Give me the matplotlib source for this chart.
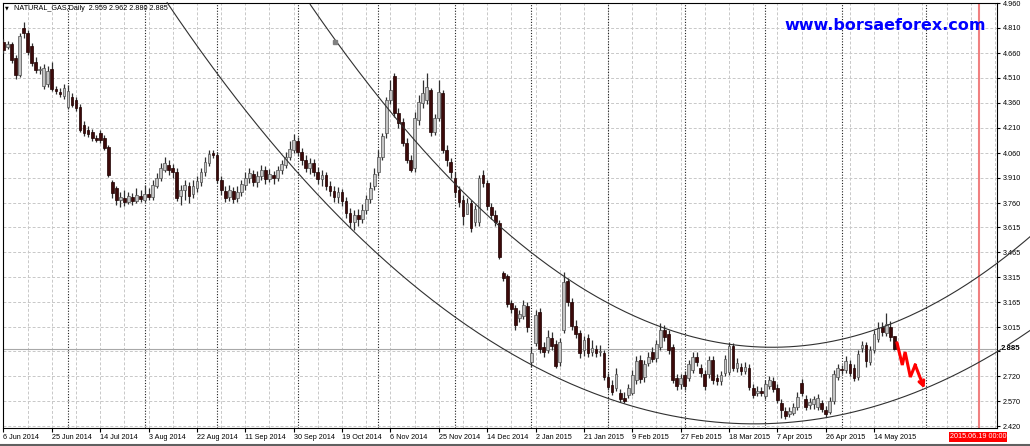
import matplotlib
matplotlib.use("Agg")
import matplotlib.pyplot as plt
from matplotlib.lines import Line2D
import numpy as np

plt.rcParams['font.family'] = ['Liberation Sans', 'DejaVu Sans']

# daily NATURAL_GAS candles (one entry per bar)
opens = [4.726, 4.696, 4.714, 4.630, 4.528, 4.810, 4.780, 4.702, 4.606, 4.558,
         4.462, 4.474, 4.564, 4.444, 4.426, 4.402, 4.336, 4.396, 4.378, 4.336,
         4.228, 4.198, 4.186, 4.150, 4.180, 4.150, 4.096, 3.886, 3.850, 3.778,
         3.790, 3.766, 3.796, 3.772, 3.802, 3.778, 3.814, 3.796, 3.862, 3.910,
         3.958, 3.988, 3.970, 3.946, 3.802, 3.838, 3.862, 3.814, 3.850, 3.886,
         3.946, 4.000, 4.060, 4.048, 3.898, 3.832, 3.796, 3.832, 3.790, 3.826,
         3.868, 3.910, 3.934, 3.886, 3.922, 3.958, 3.904, 3.928, 3.910, 3.958,
         3.988, 4.036, 4.078, 4.132, 4.066, 4.018, 3.970, 4.000, 3.946, 3.904,
         3.928, 3.862, 3.832, 3.796, 3.826, 3.772, 3.700, 3.646, 3.688, 3.664,
         3.718, 3.784, 3.862, 3.946, 4.036, 4.180, 4.378, 4.522, 4.300, 4.246,
         4.120, 4.018, 3.970, 4.258, 4.360, 4.378, 4.438, 4.186, 4.270, 4.420,
         4.078, 4.006, 3.910, 3.838, 3.778, 3.694, 3.760, 3.646, 3.646, 3.928,
         3.880, 3.736, 3.688, 3.640, 3.340, 3.322, 3.160, 3.130, 3.070, 3.082,
         3.142, 2.806, 2.920, 3.106, 2.896, 2.878, 2.950, 2.914, 2.806, 2.998,
         3.292, 3.166, 3.022, 2.980, 2.878, 2.950, 2.866, 2.884, 2.866, 2.860,
         2.716, 2.668, 2.650, 2.620, 2.590, 2.608, 2.620, 2.698, 2.818, 2.716,
         2.800, 2.866, 2.830, 2.896, 2.998, 2.974, 2.896, 2.710, 2.674, 2.728,
         2.710, 2.758, 2.836, 2.770, 2.734, 2.734, 2.818, 2.710, 2.692, 2.740,
         2.746, 2.902, 2.770, 2.776, 2.752, 2.770, 2.650, 2.620, 2.632, 2.602,
         2.662, 2.692, 2.650, 2.560, 2.512, 2.494, 2.500, 2.536, 2.680, 2.584,
         2.548, 2.554, 2.536, 2.560, 2.518, 2.506, 2.572, 2.716, 2.764, 2.758,
         2.794, 2.770, 2.716, 2.890, 2.908, 2.806, 2.878, 2.944, 3.016, 2.980,
         3.016, 2.959]
closes = [4.678, 4.714, 4.618, 4.528, 4.762, 4.780, 4.666, 4.600, 4.558, 4.564,
          4.570, 4.552, 4.444, 4.432, 4.414, 4.450, 4.432, 4.348, 4.330, 4.198,
          4.180, 4.174, 4.150, 4.138, 4.138, 4.090, 3.928, 3.820, 3.778, 3.796,
          3.766, 3.802, 3.772, 3.808, 3.784, 3.814, 3.796, 3.868, 3.910, 3.970,
          4.000, 3.958, 3.946, 3.790, 3.838, 3.868, 3.802, 3.862, 3.892, 3.946,
          4.006, 4.054, 4.048, 3.898, 3.838, 3.790, 3.838, 3.784, 3.826, 3.874,
          3.910, 3.940, 3.886, 3.922, 3.958, 3.904, 3.934, 3.910, 3.958, 3.994,
          4.036, 4.084, 4.138, 4.066, 4.018, 3.970, 4.000, 3.946, 3.904, 3.928,
          3.862, 3.832, 3.796, 3.826, 3.772, 3.700, 3.646, 3.688, 3.664, 3.718,
          3.784, 3.850, 3.934, 4.036, 4.162, 4.378, 4.438, 4.300, 4.240, 4.120,
          4.018, 3.958, 4.270, 4.366, 4.420, 4.456, 4.186, 4.270, 4.426, 4.078,
          4.018, 3.946, 3.826, 3.766, 3.682, 3.760, 3.610, 3.724, 3.910, 3.880,
          3.742, 3.688, 3.646, 3.436, 3.310, 3.154, 3.124, 3.028, 3.094, 3.148,
          3.016, 2.860, 3.088, 2.884, 2.866, 2.956, 2.902, 2.782, 2.926, 3.286,
          3.166, 3.022, 2.974, 2.860, 2.938, 2.860, 2.890, 2.860, 2.872, 2.716,
          2.656, 2.626, 2.734, 2.584, 2.572, 2.650, 2.728, 2.812, 2.704, 2.794,
          2.836, 2.824, 2.914, 2.998, 2.956, 2.878, 2.698, 2.662, 2.710, 2.662,
          2.794, 2.836, 2.806, 2.740, 2.662, 2.818, 2.698, 2.692, 2.728, 2.824,
          2.902, 2.770, 2.800, 2.752, 2.776, 2.656, 2.608, 2.632, 2.620, 2.674,
          2.698, 2.644, 2.578, 2.518, 2.482, 2.512, 2.536, 2.596, 2.620, 2.536,
          2.566, 2.584, 2.590, 2.524, 2.494, 2.572, 2.734, 2.770, 2.758, 2.812,
          2.740, 2.710, 2.854, 2.908, 2.812, 2.878, 2.974, 3.010, 2.986, 3.034,
          2.956, 2.885]
highs = [4.744, 4.732, 4.726, 4.648, 4.780, 4.846, 4.798, 4.720, 4.636, 4.582,
         4.594, 4.582, 4.606, 4.462, 4.450, 4.474, 4.468, 4.420, 4.396, 4.354,
         4.252, 4.222, 4.204, 4.168, 4.198, 4.168, 4.108, 3.898, 3.862, 3.826,
         3.838, 3.826, 3.820, 3.850, 3.838, 3.868, 3.850, 3.898, 3.940, 4.000,
         4.036, 4.018, 3.994, 3.970, 3.868, 3.898, 3.886, 3.898, 3.922, 3.970,
         4.036, 4.078, 4.078, 4.066, 3.922, 3.862, 3.868, 3.856, 3.862, 3.898,
         3.946, 3.970, 3.958, 3.952, 3.988, 3.982, 3.964, 3.952, 3.982, 4.018,
         4.066, 4.132, 4.174, 4.156, 4.090, 4.048, 4.030, 4.024, 3.976, 3.958,
         3.946, 3.892, 3.862, 3.856, 3.844, 3.796, 3.730, 3.718, 3.724, 3.754,
         3.808, 3.886, 3.970, 4.078, 4.180, 4.396, 4.498, 4.540, 4.330, 4.270,
         4.150, 4.048, 4.306, 4.408, 4.498, 4.540, 4.450, 4.294, 4.498, 4.438,
         4.108, 4.030, 3.946, 3.862, 3.808, 3.790, 3.778, 3.748, 3.928, 3.958,
         3.898, 3.760, 3.718, 3.658, 3.352, 3.334, 3.178, 3.148, 3.118, 3.178,
         3.166, 2.896, 3.118, 3.130, 2.926, 2.998, 2.986, 2.938, 2.950, 3.346,
         3.310, 3.190, 3.058, 2.998, 2.962, 2.974, 2.938, 2.908, 2.908, 2.878,
         2.740, 2.698, 2.770, 2.644, 2.626, 2.674, 2.758, 2.842, 2.848, 2.818,
         2.866, 2.896, 2.938, 3.040, 3.028, 2.998, 2.914, 2.734, 2.734, 2.752,
         2.818, 2.866, 2.866, 2.794, 2.758, 2.842, 2.842, 2.734, 2.752, 2.848,
         2.926, 2.920, 2.830, 2.800, 2.806, 2.794, 2.674, 2.662, 2.656, 2.698,
         2.722, 2.716, 2.674, 2.584, 2.536, 2.536, 2.560, 2.626, 2.704, 2.608,
         2.590, 2.602, 2.614, 2.578, 2.542, 2.596, 2.758, 2.794, 2.788, 2.842,
         2.818, 2.794, 2.878, 2.932, 2.926, 2.902, 2.998, 3.046, 3.046, 3.100,
         3.052, 2.962]
lows = [4.660, 4.684, 4.600, 4.504, 4.516, 4.750, 4.648, 4.582, 4.540, 4.534,
        4.444, 4.456, 4.432, 4.414, 4.396, 4.384, 4.324, 4.336, 4.312, 4.186,
        4.162, 4.156, 4.132, 4.126, 4.120, 4.078, 3.916, 3.790, 3.748, 3.736,
        3.742, 3.754, 3.748, 3.760, 3.766, 3.766, 3.778, 3.778, 3.850, 3.892,
        3.946, 3.928, 3.910, 3.772, 3.748, 3.778, 3.760, 3.790, 3.826, 3.862,
        3.922, 3.982, 4.030, 3.880, 3.808, 3.766, 3.772, 3.760, 3.766, 3.802,
        3.838, 3.880, 3.862, 3.856, 3.898, 3.874, 3.886, 3.874, 3.892, 3.934,
        3.970, 4.018, 4.060, 4.042, 3.988, 3.946, 3.934, 3.922, 3.874, 3.862,
        3.838, 3.802, 3.766, 3.760, 3.742, 3.670, 3.610, 3.598, 3.622, 3.640,
        3.694, 3.760, 3.838, 3.922, 4.018, 4.150, 4.354, 4.276, 4.210, 4.102,
        4.000, 3.946, 3.946, 4.228, 4.330, 4.354, 4.162, 4.168, 4.250, 4.060,
        3.982, 3.910, 3.796, 3.736, 3.628, 3.718, 3.586, 3.622, 3.622, 3.856,
        3.718, 3.664, 3.622, 3.424, 3.292, 3.136, 3.100, 2.998, 3.046, 3.064,
        2.986, 2.776, 2.902, 2.860, 2.836, 2.860, 2.878, 2.770, 2.782, 2.980,
        3.142, 2.998, 2.950, 2.830, 2.842, 2.836, 2.842, 2.836, 2.842, 2.698,
        2.638, 2.608, 2.632, 2.566, 2.560, 2.590, 2.608, 2.674, 2.680, 2.686,
        2.782, 2.806, 2.806, 2.878, 2.932, 2.854, 2.680, 2.638, 2.644, 2.638,
        2.692, 2.740, 2.782, 2.716, 2.638, 2.710, 2.674, 2.668, 2.668, 2.722,
        2.728, 2.752, 2.746, 2.728, 2.734, 2.638, 2.590, 2.602, 2.602, 2.584,
        2.644, 2.626, 2.560, 2.470, 2.464, 2.476, 2.488, 2.518, 2.602, 2.518,
        2.524, 2.524, 2.518, 2.506, 2.476, 2.494, 2.554, 2.698, 2.734, 2.740,
        2.722, 2.692, 2.698, 2.866, 2.776, 2.788, 2.860, 2.926, 2.962, 2.962,
        2.932, 2.880]

date_labels = ['6 Jun 2014', '25 Jun 2014', '14 Jul 2014', '3 Aug 2014', '22 Aug 2014',
               '11 Sep 2014', '30 Sep 2014', '19 Oct 2014', '6 Nov 2014', '25 Nov 2014',
               '14 Dec 2014', '2 Jan 2015', '21 Jan 2015', '9 Feb 2015', '27 Feb 2015',
               '18 Mar 2015', '7 Apr 2015', '26 Apr 2015', '14 May 2015']
price_ticks = [2.42, 2.57, 2.72, 2.87, 3.015, 3.165, 3.315, 3.465, 3.615, 3.76,
               3.91, 4.06, 4.21, 4.36, 4.51, 4.66, 4.81, 4.96]
price_labels = ['2.420', '2.570', '2.720', '', '3.015', '3.165', '3.315', '3.465', '3.615',
                '3.760', '3.910', '4.060', '4.210', '4.360', '4.510', '4.660', '4.810', '4.960']
month_starts = [16, 35, 53, 73, 93, 112, 131, 150, 169, 189, 208, 229]
last_price = 2.885
future_bar = 242.1  # 2015.06.19 00:00

# hand-drawn curves and arrow (bar index, price)
upper_bars = [76.1, 82.3, 88.5, 103.9, 110.8, 123.7, 131.2, 140.1, 150.5, 164.7,
              167.9, 188.5, 207.6, 218.3, 228.7, 236.6, 254.7]
upper_prices = [4.960, 4.726, 4.540, 4.078, 3.910, 3.610, 3.460, 3.310, 3.148, 2.998,
                2.980, 2.896, 2.938, 3.016, 3.130, 3.238, 3.556]
lower_bars = [40.6, 67.9, 102.9, 131.2, 154.7, 167.9, 180.3, 189.5, 207.6, 228.7, 242.3, 254.7]
lower_prices = [4.960, 4.090, 3.238, 2.788, 2.548, 2.476, 2.440, 2.440, 2.488, 2.644, 2.806, 2.998]
arrow_bars = [221.7, 223.0, 223.7, 225.0, 226.2, 228.5]
arrow_prices = [2.920, 2.788, 2.866, 2.716, 2.788, 2.646]

fig = plt.figure(figsize=(10.3, 4.46), dpi=100)
ax = fig.add_axes([3 / 1030, 18 / 446, 994 / 1030, 425 / 446])
ax.set_xlim(-0.12, 246.5)
ax.set_ylim(2.41, 4.96)

# grid
for p in price_ticks:
    ax.axhline(p, color='#c8c8c8', lw=0.7, ls=(0, (3, 2)), zorder=1)
for b in range(0, 247, 6):
    ax.axvline(b, color='#c8c8c8', lw=0.7, ls=(0, (3, 2)), zorder=1)
for b in month_starts:
    ax.axvline(b, color='#202020', lw=0.8, ls=(0, (1, 1.5)), zorder=1)
ax.axhline(last_price, color='#a8a8a8', lw=0.8, zorder=1)
ax.axvline(future_bar, color='#f08080', lw=1.5, zorder=1)

# candles
x = np.arange(len(closes))
o = np.array(opens)
c = np.array(closes)
h = np.maximum(np.array(highs), np.maximum(o, c))
l = np.minimum(np.array(lows), np.minimum(o, c))
up = c >= o
ax.vlines(x, l, h, color='#303030', lw=0.9, zorder=3)
ax.bar(x[up], (c - o)[up], bottom=o[up], width=0.68, color='#c4c4c4',
       edgecolor='#505050', lw=0.5, zorder=4)
ax.bar(x[~up], (o - c)[~up], bottom=c[~up], width=0.68, color='#3c0a0a',
       edgecolor='#1e0000', lw=0.5, zorder=4)

# curves, drawn smooth through the anchor points
for bx, py in ((upper_bars, upper_prices), (lower_bars, lower_prices)):
    coef = np.polyfit(bx, py, 4)
    xs = np.linspace(bx[0], bx[-1], 300)
    ax.plot(xs, np.polyval(coef, xs), color='#303030', lw=0.8, clip_on=False, zorder=5)
ax.plot(upper_bars[1], upper_prices[1], 's', color='#808080', ms=2.5, zorder=6)

# red zigzag arrow
ax.plot(arrow_bars[:-1], arrow_prices[:-1], color='red', lw=2.2, zorder=6,
        solid_joinstyle='miter')
ax.annotate('', xy=(arrow_bars[-1], arrow_prices[-1]),
            xytext=(arrow_bars[-2], arrow_prices[-2]),
            arrowprops=dict(arrowstyle='->', color='red', lw=2.2, mutation_scale=9,
                            shrinkA=0, shrinkB=0), zorder=6)

# axes
for s in ax.spines.values():
    s.set_color('black')
    s.set_linewidth(0.8)
ax.yaxis.tick_right()
ax.set_yticks(price_ticks)
ax.set_yticklabels(price_labels)
ax.tick_params(axis='y', length=2, pad=2, labelsize=5.2, color='black')
ax.set_xticks(np.arange(0, 12 * len(date_labels), 12))
ax.set_xticklabels(date_labels, ha='left')
ax.tick_params(axis='x', length=3, pad=1.5, labelsize=5.2, color='black')

ax.text(1.004, last_price, '2.885', transform=ax.get_yaxis_transform(),
        fontsize=5.6, fontweight='bold', va='center', ha='left', color='black',
        bbox=dict(facecolor='white', edgecolor='none', pad=0.3), zorder=7, clip_on=False)

# header texts
fig.text(7 / 1030, 1 - 7.5 / 446, '\u25bc', fontsize=3.5, family='DejaVu Sans',
         va='center', ha='center')
fig.text(14 / 1030, 1 - 8 / 446, 'NATURAL_GAS,Daily  2.959 2.962 2.880 2.885',
         fontsize=5.2, va='center', ha='left')
fig.text(885 / 1030, 1 - 26 / 446, 'www.borsaeforex.com', color='#0000ff',
         fontsize=11.5, fontweight='bold', family='DejaVu Sans', ha='center', va='center')
fig.text(978 / 1030, 1 - 437 / 446, '2015.06.19 00:00', color='white', fontsize=5.2,
         ha='center', va='center',
         bbox=dict(facecolor='#ff0000', edgecolor='none', pad=0.8))
fig.add_artist(Line2D([0, 1], [1 - 444.5 / 446] * 2, color='#606060', lw=1.5,
                      transform=fig.transFigure))

fig.savefig('out.png', dpi=100, facecolor='white')
